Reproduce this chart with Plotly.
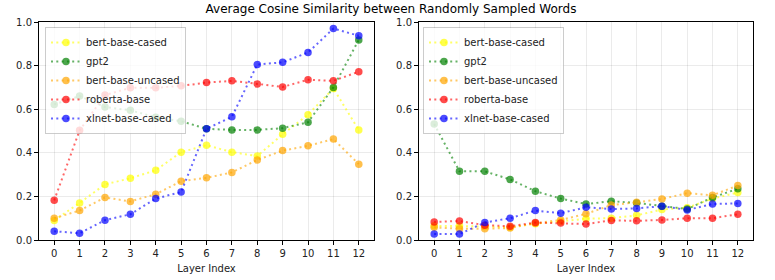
import plotly.graph_objects as go

layers = list(range(13))
models = ["bert-base-cased", "gpt2", "bert-base-uncased", "roberta-base", "xlnet-base-cased"]
colors = ["255,255,0", "0,128,0", "255,165,0", "255,0,0", "0,0,255"]

# Left panel
left_bert_cased = [0.09, 0.17, 0.255, 0.283, 0.32, 0.403, 0.435, 0.403, 0.385, 0.485, 0.575, 0.695, 0.505]
left_gpt2 = [0.622, 0.66, 0.61, 0.595, 0.563, 0.545, 0.51, 0.505, 0.505, 0.513, 0.54, 0.70, 0.918]
left_bert_uncased = [0.10, 0.135, 0.195, 0.177, 0.21, 0.27, 0.285, 0.31, 0.367, 0.41, 0.432, 0.463, 0.348]
left_roberta = [0.182, 0.503, 0.665, 0.698, 0.698, 0.707, 0.722, 0.73, 0.716, 0.702, 0.735, 0.73, 0.772]
left_xlnet = [0.04, 0.031, 0.091, 0.118, 0.19, 0.22, 0.51, 0.565, 0.805, 0.815, 0.86, 0.97, 0.937]

# Right panel
right_bert_cased = [0.065, 0.065, 0.062, 0.058, 0.075, 0.085, 0.098, 0.10, 0.113, 0.14, 0.148, 0.19, 0.218]
right_gpt2 = [0.532, 0.315, 0.315, 0.278, 0.224, 0.19, 0.165, 0.178, 0.17, 0.155, 0.142, 0.195, 0.235]
right_bert_uncased = [0.058, 0.052, 0.052, 0.055, 0.077, 0.092, 0.12, 0.16, 0.173, 0.188, 0.215, 0.205, 0.25]
right_roberta = [0.083, 0.087, 0.068, 0.063, 0.08, 0.078, 0.073, 0.09, 0.088, 0.092, 0.10, 0.10, 0.118]
right_xlnet = [0.027, 0.027, 0.08, 0.10, 0.135, 0.123, 0.15, 0.142, 0.145, 0.155, 0.138, 0.165, 0.168]

left_data = [left_bert_cased, left_gpt2, left_bert_uncased, left_roberta, left_xlnet]
right_data = [right_bert_cased, right_gpt2, right_bert_uncased, right_roberta, right_xlnet]

title_text = "Average Cosine Similarity between Randomly Sampled Words"
x_title = "Layer Index"
y_ticks = [0.0, 0.2, 0.4, 0.6, 0.8, 1.0]

fig = go.Figure()
for i, (name, col) in enumerate(zip(models, colors)):
    fig.add_trace(go.Scatter(
        x=layers, y=left_data[i], name=name, mode="lines+markers",
        line=dict(color=f"rgba({col},0.6)", width=2, dash="2px,3.3px"),
        marker=dict(color=f"rgba({col},0.7)", size=7.5),
        xaxis="x", yaxis="y", legend="legend",
    ))
for i, (name, col) in enumerate(zip(models, colors)):
    fig.add_trace(go.Scatter(
        x=layers, y=right_data[i], name=name, mode="lines+markers",
        line=dict(color=f"rgba({col},0.6)", width=2, dash="2px,3.3px"),
        marker=dict(color=f"rgba({col},0.7)", size=7.5),
        xaxis="x2", yaxis="y2", legend="legend2",
    ))

W, H = 775, 280
OFF = 0  # body margin removed by post_script


def fx(p):
    return (p - OFF) / W


def fy(p):
    return 1 - (p - OFF) / H


ax_common = dict(
    showline=True, mirror=True, linecolor="black", linewidth=1,
    showgrid=True, gridcolor="rgba(0,0,0,0.08)", gridwidth=1,
    ticks="outside", ticklen=4, tickcolor="black", zeroline=False,
    tickfont=dict(size=10, color="#222"), automargin=False,
)
xcommon = dict(ax_common, range=[-0.6, 12.6], tickmode="array", tickvals=layers,
               title=dict(text=x_title, font=dict(size=10, color="#222"), standoff=6))
ycommon = dict(ax_common, range=[0, 1], tickmode="array", tickvals=y_ticks,
               ticktext=[f"{v:.1f}" for v in y_ticks])

legend_common = dict(
    bgcolor="rgba(255,255,255,0.8)", bordercolor="rgba(0,0,0,0.2)", borderwidth=1,
    font=dict(size=10, color="#222"), xanchor="left", yanchor="top",
    tracegroupgap=0, itemsizing="trace",
)

fig.update_layout(
    width=W, height=H,
    margin=dict(l=0, r=0, t=0, b=0, autoexpand=False),
    paper_bgcolor="white", plot_bgcolor="white",
    font=dict(family="DejaVu Sans", size=10, color="#222"),
    showlegend=True,
    title=dict(text=title_text, x=fx(391), xanchor="center", y=fy(9), yanchor="middle",
               font=dict(size=12, color="black"), automargin=False),
    xaxis=dict(xcommon, domain=[fx(39), fx(374)], anchor="y"),
    yaxis=dict(ycommon, domain=[fy(240), fy(22)], anchor="x"),
    xaxis2=dict(xcommon, domain=[fx(419), fx(753)], anchor="y2"),
    yaxis2=dict(ycommon, domain=[fy(240), fy(22)], anchor="x2"),
    legend=dict(legend_common, x=fx(45), y=fy(27)),
    legend2=dict(legend_common, x=fx(423), y=fy(27)),
)

fig.write_html("out.html", config={"displayModeBar": False},
               post_script="document.body.style.margin='0';")
